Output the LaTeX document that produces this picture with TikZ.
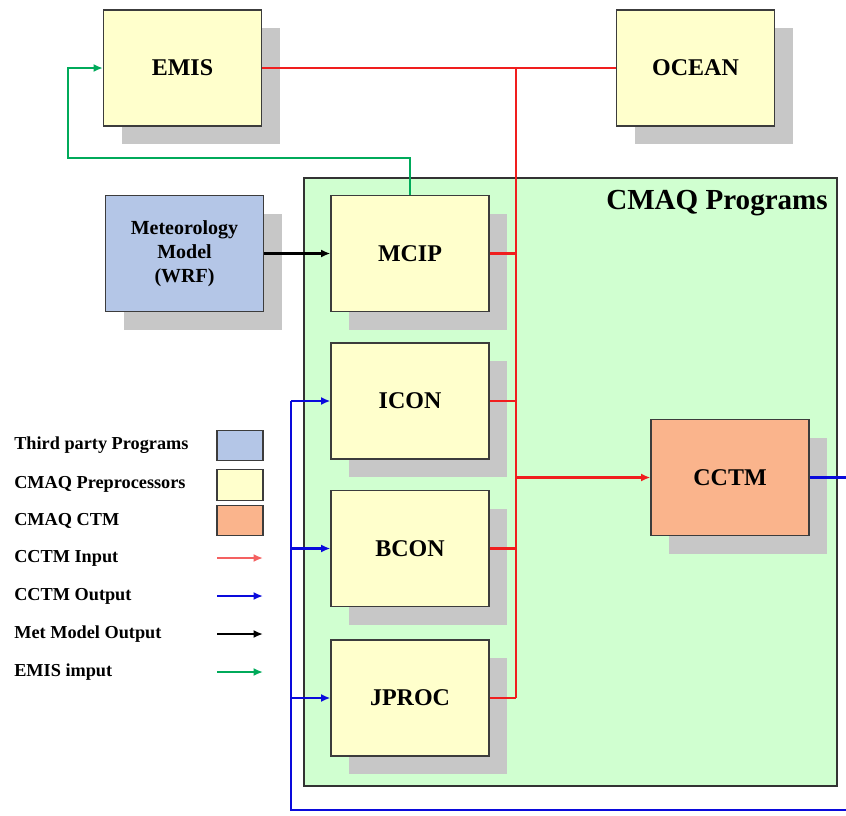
\documentclass[tikz,border=0pt]{standalone}
\usepackage{fontspec}
\setmainfont{Liberation Serif}
\usetikzlibrary{arrows.meta,positioning,shadows}
\definecolor{preyel}{RGB}{255,255,204}
\definecolor{thirdblue}{RGB}{180,198,231}
\definecolor{ctmorange}{RGB}{250,180,140}
\definecolor{cmaqgreen}{RGB}{208,255,208}
\definecolor{boxline}{RGB}{60,60,60}
\definecolor{inred}{RGB}{240,30,30}
\definecolor{outblue}{RGB}{10,10,220}
\definecolor{emisgreen}{RGB}{0,170,90}
\tikzset{
  prog/.style={draw=boxline, line width=0.9pt, minimum width=118.5pt, minimum height=87pt,
    inner sep=0pt, align=center, font=\fontsize{18}{21}\selectfont\bfseries,
    drop shadow={shadow xshift=13.5pt, shadow yshift=-13.5pt, fill=black!22, opacity=1}},
  legbox/.style={draw=boxline, line width=0.8pt, minimum width=34.5pt, minimum height=23pt, inner sep=0pt},
  legtext/.style={anchor=west, inner sep=0pt, font=\fontsize{13.7}{15}\selectfont\bfseries},
  cin/.style={draw=inred, line width=2.2pt},
  cout/.style={draw=outblue, line width=2.2pt},
  tip/.style={-{Latex[length=7pt,width=6pt]}}
}
\begin{document}
\begin{tikzpicture}[x=0.75pt,y=0.75pt,yscale=-1,xscale=1]
	\useasboundingbox (0,0) rectangle (846,815);
	
	% CMAQ programs frame
	\node (cmaq) [draw=black!80, line width=0.9pt, fill=cmaqgreen, minimum width=399.75pt, minimum height=456pt, inner sep=0pt] at (570.5,482) {};
	\node (cmaqtitle) [anchor=north east, inner sep=0pt, font=\fontsize{21.8}{24}\selectfont\bfseries] at (828,190) {CMAQ Programs};
	
	% boxes
	\node (emis) [prog, fill=preyel] at (182.5,68) {EMIS};
	\node (ocean) [prog, fill=preyel] at (695.5,68) {OCEAN};
	\node (met) [prog, fill=thirdblue, font=\fontsize{15}{18}\selectfont\bfseries] at (184.5,253.5) {Meteorology\\Model\\(WRF)};
	\node (mcip) [prog, fill=preyel] at (410,253.5) {MCIP};
	\node (icon) [prog, fill=preyel] at (410,401) {ICON};
	\node (bcon) [prog, fill=preyel] at (410,548.5) {BCON};
	\node (jproc) [prog, fill=preyel] at (410,698) {JPROC};
	\node (cctm) [prog, fill=ctmorange] at (730,477.5) {CCTM};
	
	% CCTM input bus
	\coordinate (bustop) at (516,68);
	\coordinate (busbot) at (516,698);
	\draw [cin] (emis.east) -- (ocean.west);
	\draw [cin] (bustop) -- (busbot);
	\draw [cin] (mcip.east) -- (mcip.east -| bustop);
	\draw [cin] (icon.east) -- (icon.east -| bustop);
	\draw [cin] (bcon.east) -- (bcon.east -| bustop);
	\draw [cin] (jproc.east) -- (jproc.east -| bustop);
	\draw [cin, tip, fill=inred] (cctm.west -| bustop) -- (cctm.west);
	
	% CCTM output loop
	\coordinate (loopr) at (852,810);
	\coordinate (loopl) at (291,810);
	\draw [cout] (cctm.east) -- (cctm.east -| loopr) -- (loopr) -- (loopl) -- (icon.west -| loopl);
	\draw [cout, tip, fill=outblue] (icon.west -| loopl) -- (icon.west);
	\draw [cout, tip, fill=outblue] (bcon.west -| loopl) -- (bcon.west);
	\draw [cout, tip, fill=outblue] (jproc.west -| loopl) -- (jproc.west);
	
	% met model output
	\draw [line width=2.2pt, tip] (met.east) -- (mcip.west);
	
	% EMIS input
	\coordinate (emisturn) at (68,158);
	\draw [draw=emisgreen, line width=2.2pt, tip] (mcip.north) |- (emisturn) |- (emis.west);
	
	% legend
	\node (lg1) [legtext] at (14,445) {Third party Programs};
	\node (lg2) [legtext] at (14,484) {CMAQ Preprocessors};
	\node (lg3) [legtext] at (14,521) {CMAQ CTM};
	\node (lg4) [legtext] at (14,558) {CCTM Input};
	\node (lg5) [legtext] at (14,596) {CCTM Output};
	\node (lg6) [legtext] at (14,634) {Met Model Output};
	\node (lg7) [legtext] at (14,672) {EMIS imput};
	\node (lb1) [legbox, fill=thirdblue] at (240,445.5) {};
	\node (lb2) [legbox, fill=preyel] at (240,485) {};
	\node (lb3) [legbox, fill=ctmorange] at (240,520.5) {};
	\coordinate (la4) at (217,558);
	\coordinate (la5) at (217,596);
	\coordinate (la6) at (217,634);
	\coordinate (la7) at (217,672);
	\draw [draw=inred!70, line width=1.6pt, tip] (la4) -- ++(46,0);
	\draw [draw=outblue, line width=1.6pt, tip] (la5) -- ++(46,0);
	\draw [draw=black, line width=1.6pt, tip] (la6) -- ++(46,0);
	\draw [draw=emisgreen, line width=1.6pt, tip] (la7) -- ++(46,0);
	
\end{tikzpicture}
\end{document}
